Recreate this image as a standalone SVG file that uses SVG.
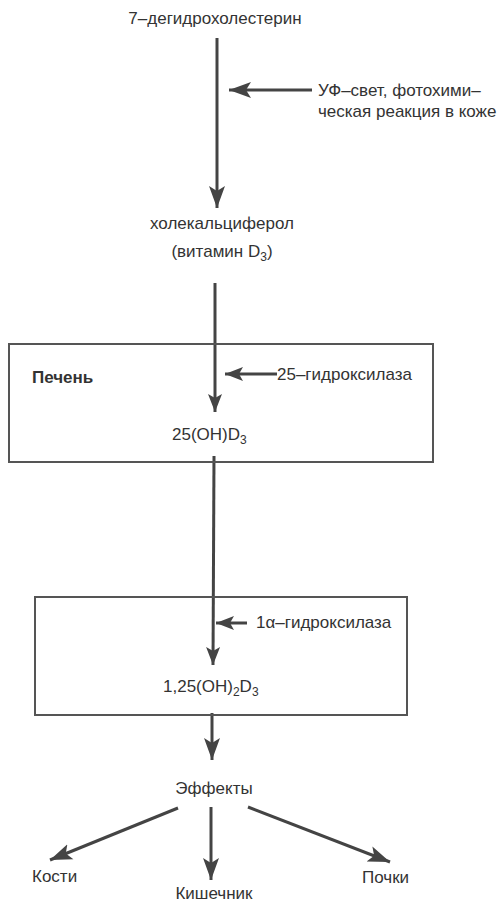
<svg xmlns="http://www.w3.org/2000/svg" width="502" height="902" viewBox="0 0 502 902">
<style>
text{font-family:"Liberation Sans",Arial,sans-serif;font-size:17px;fill:#333}
.b{font-weight:bold}
.box{fill:none;stroke:#555;stroke-width:2}
.c{stroke:#444;stroke-width:3;fill:none}
.s{font-size:12px}
</style>
<defs>
<marker id="ah" markerUnits="userSpaceOnUse" markerWidth="24" markerHeight="18" refX="22" refY="9" orient="auto">
<path d="M0,1 L22,9 L0,17 L5,9 z" fill="#444"/>
</marker>
<marker id="ahs" markerUnits="userSpaceOnUse" markerWidth="20" markerHeight="16" refX="18" refY="8" orient="auto">
<path d="M0,1 L18,8 L0,15 L4,8 z" fill="#444"/>
</marker>
</defs>
<rect width="502" height="902" fill="#fff"/>
<g id="connectors">
<line class="c" x1="217" y1="38" x2="217" y2="208" marker-end="url(#ah)"/>
<line class="c" x1="312" y1="90" x2="229" y2="90" marker-end="url(#ah)"/>
<line class="c" x1="215" y1="283" x2="215" y2="412" marker-end="url(#ahs)"/>
<line class="c" x1="277" y1="374" x2="225" y2="374" marker-end="url(#ahs)"/>
<line class="c" x1="214" y1="456" x2="213" y2="665" marker-end="url(#ahs)"/>
<line class="c" x1="247" y1="623" x2="216" y2="623" marker-end="url(#ahs)"/>
<line class="c" x1="212" y1="713" x2="212" y2="760" marker-end="url(#ah)"/>
<line class="c" x1="178" y1="808" x2="50" y2="860" marker-end="url(#ah)"/>
<line class="c" x1="211" y1="807" x2="211" y2="880" marker-end="url(#ah)"/>
<line class="c" x1="248" y1="807" x2="390" y2="862" marker-end="url(#ah)"/>
</g>
<g id="n-7dhc"><text x="215" y="24" text-anchor="middle">7–дегидрохолестерин</text></g>
<g id="n-uv"><text x="318" y="96">УФ–свет, фотохими–</text><text x="318" y="117">ческая реакция в коже</text></g>
<g id="n-d3"><text x="222" y="229" text-anchor="middle">холекальциферол</text><text x="222" y="257" text-anchor="middle">(витамин D<tspan class="s" dy="4">3</tspan><tspan dy="-4">)</tspan></text></g>
<g id="n-liver">
<rect class="box" x="9" y="344" width="424" height="118"/>
<text class="b" x="32" y="383">Печень</text>
<text x="277" y="380">25–гидроксилаза</text>
<text x="172" y="440">25(OH)D<tspan class="s" dy="4">3</tspan></text>
</g>
<g id="n-kidney">
<rect class="box" x="35" y="597" width="372" height="118"/>
<text x="256" y="628">1α–гидроксилаза</text>
<text x="163" y="692">1,25(OH)<tspan class="s" dy="4">2</tspan><tspan dy="-4">D</tspan><tspan class="s" dy="4">3</tspan></text>
</g>
<g id="n-effects"><text x="214" y="794" text-anchor="middle">Эффекты</text></g>
<g id="n-bones"><text x="32" y="882">Кости</text></g>
<g id="n-intestine"><text x="214" y="899" text-anchor="middle">Кишечник</text></g>
<g id="n-kidneys"><text x="362" y="883">Почки</text></g>
</svg>
